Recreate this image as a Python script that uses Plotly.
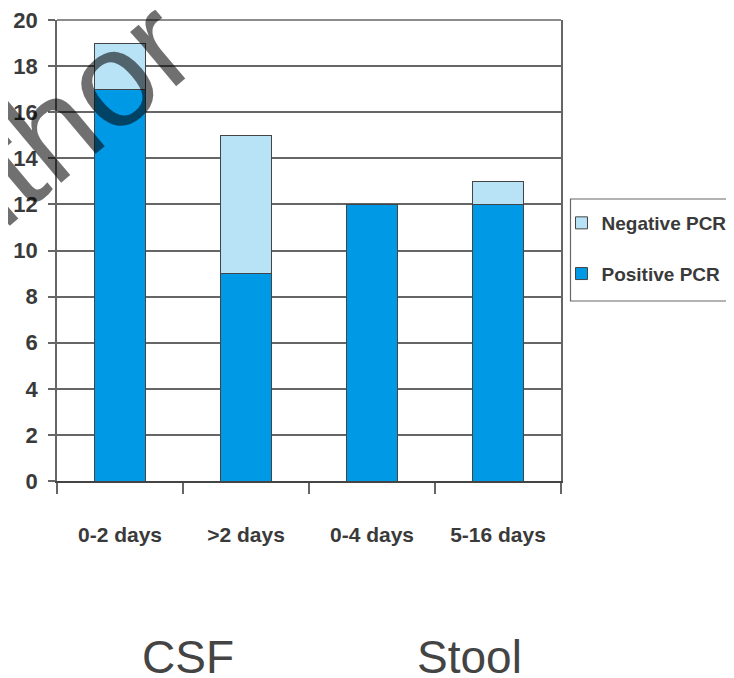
import plotly.graph_objects as go

categories = ["0-2 days", ">2 days", "0-4 days", "5-16 days"]
positive_pcr = [17, 9, 12, 12]
negative_pcr = [2, 6, 0, 1]
y_ticks = [0, 2, 4, 6, 8, 10, 12, 14, 16, 18, 20]
group_labels = ["CSF", "Stool"]

BOLD = "Liberation Sans, Arial, sans-serif"
OFF = 8  # page body margin of the html page
W, H = 734 - OFF, 678 - OFF
# plot area in screen pixels: x 57..561.5, y 20..481
L, T = 57 - OFF, 20 - OFF
R = W - (561.5 - OFF)
B = H - (481 - OFF)
PW = W - L - R
PH = H - T - B

def px_x(sx):
    return (sx - OFF - L) / PW

def px_y(sy):
    return (H - B - (sy - OFF)) / PH

fig = go.Figure()
fig.add_trace(go.Bar(
    x=categories, y=positive_pcr, name="Positive PCR",
    marker=dict(color="#0099E6", line=dict(color="#444444", width=1)),
    width=0.4, legendgroup="pos", legendrank=2,
))
fig.add_trace(go.Bar(
    x=categories, y=negative_pcr, name="Negative PCR",
    marker=dict(color="#B8E2F5", line=dict(color="#444444", width=1)),
    width=0.4, legendgroup="neg", legendrank=1,
))

fig.update_layout(
    barmode="stack",
    width=W, height=H, autosize=False,
    margin=dict(l=L, r=R, t=T, b=B, pad=0, autoexpand=False),
    paper_bgcolor="white", plot_bgcolor="white",
    showlegend=True,
    legend=dict(
        x=px_x(562), y=px_y(204), xanchor="left", yanchor="top",
        traceorder="grouped", tracegroupgap=23,
        font=dict(family=BOLD, size=19, color="#3a3a3a", weight="bold"),
        bgcolor="rgba(0,0,0,0)", borderwidth=0,
    ),
    xaxis=dict(
        type="category", range=[-0.5, 3.5], automargin=False, tickangle=0,
        showgrid=False, showline=True, linecolor="#444444", linewidth=2,
        ticks="outside", tickson="boundaries", ticklen=11, tickcolor="#666666", tickwidth=1.5,
        ticklabelstandoff=34,
        tickfont=dict(family=BOLD, size=21, color="#3a3a3a", weight="bold"),
        zeroline=False, fixedrange=True,
    ),
    yaxis=dict(
        range=[0, 20], tickvals=y_ticks, automargin=False, ticklabeloverflow="allow",
        showgrid=True, gridcolor="#666666", gridwidth=1.5,
        showline=True, linecolor="#666666", linewidth=1.5, mirror=True,
        ticks="outside", ticklen=7, tickcolor="#666666", tickwidth=1.5,
        ticklabelstandoff=6,
        tickfont=dict(family=BOLD, size=22, color="#3a3a3a", weight="bold"),
        zeroline=False, fixedrange=True,
    ),
    shapes=[
        dict(type="line", xref="paper", yref="paper", x0=0, x1=1, y0=1, y1=1,
             line=dict(color="#666666", width=1.5)),
        dict(type="rect", xref="paper", yref="paper",
             x0=px_x(571), x1=px_x(760), y0=px_y(301), y1=px_y(199),
             line=dict(color="#666666", width=1.2), fillcolor="rgba(0,0,0,0)"),
    ],
    annotations=[
        dict(text=group_labels[0], xref="paper", yref="paper", x=px_x(188), y=px_y(657),
             xanchor="center", yanchor="middle", showarrow=False,
             font=dict(family="Liberation Sans, Arial, sans-serif", size=46, color="#444444")),
        dict(text=group_labels[1], xref="paper", yref="paper", x=px_x(470), y=px_y(657),
             xanchor="center", yanchor="middle", showarrow=False,
             font=dict(family="Liberation Sans, Arial, sans-serif", size=46, color="#444444")),
        dict(text="Author", xref="paper", yref="paper", x=px_x(21), y=px_y(155),
             xanchor="center", yanchor="middle", showarrow=False, textangle=-40,
             font=dict(family="Liberation Sans, Arial, sans-serif", size=135, color="rgba(0,0,0,0.56)")),
    ],
)

fig.write_html("out.html")
